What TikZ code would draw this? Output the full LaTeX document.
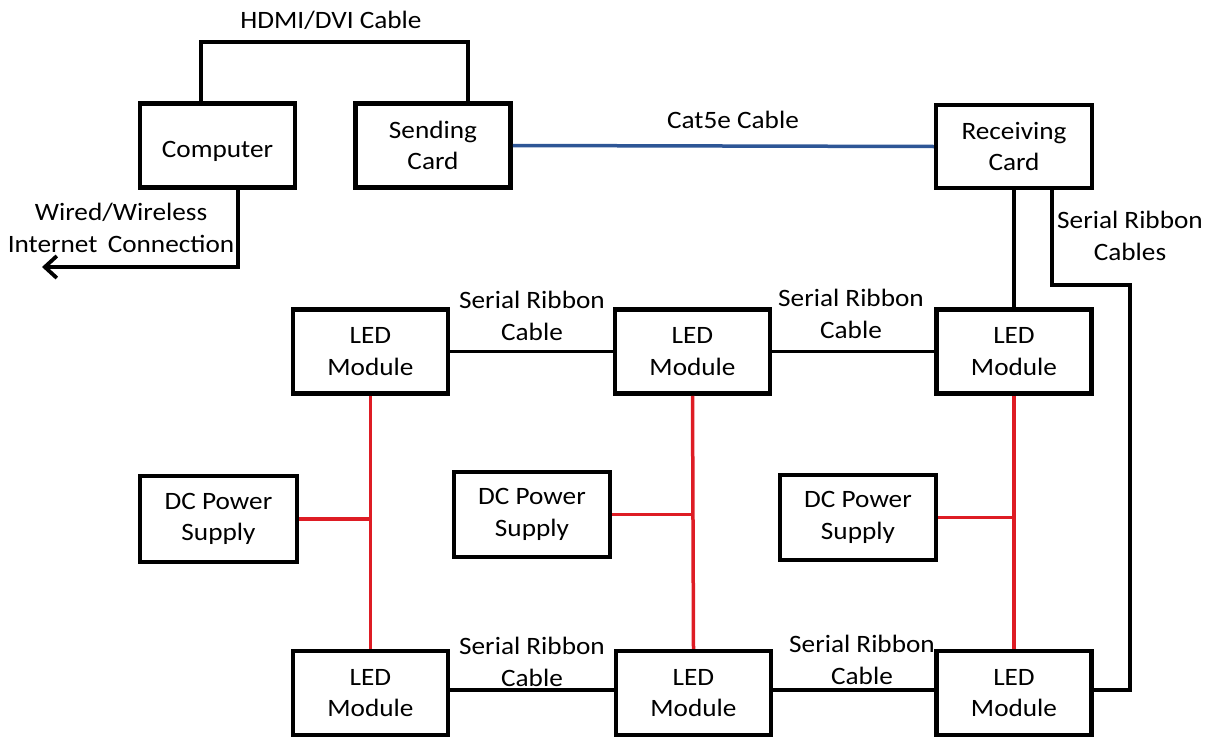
\documentclass[tikz,border=0pt]{standalone}
\usepackage{fontspec}
\setmainfont{Carlito}[FakeStretch=1.09]
\usetikzlibrary{arrows.meta}
\definecolor{cablered}{RGB}{222,28,36}
\definecolor{cableblue}{RGB}{46,86,150}
\tikzset{
  box/.style={draw=black, line width=4.5pt, rectangle, minimum width=155pt, minimum height=84pt, inner sep=0pt, align=center, font=\fontsize{25}{31.5}\selectfont},
  lbl/.style={inner sep=0pt, align=center, font=\fontsize{25}{32}\selectfont},
  wire/.style={draw=black, line width=3.8pt},
  power/.style={draw=cablered, line width=3.5pt},
  cat/.style={draw=cableblue, line width=3.5pt},
}
\begin{document}
\begin{tikzpicture}[x=1pt, y=-1pt]
\useasboundingbox (0,0) rectangle (1212,736);
% boxes
\node[box] (comp) at (217.5,145.5) {\rule{0pt}{28pt}Computer};
\node[box] (send) at (433,145.5) {Sending\\Card};
\node[box, minimum width=156pt, minimum height=83pt] (recv) at (1014,146.5) {Receiving\\Card};
\node[box] (led1) at (370.5,351.5) {LED\\Module};
\node[box] (led2) at (692.5,351.5) {LED\\Module};
\node[box] (led3) at (1014,351.5) {LED\\Module};
\node[box] (led4) at (370.5,693) {LED\\Module};
\node[box] (led5) at (693.5,693) {LED\\Module};
\node[box] (led6) at (1014,693) {LED\\Module};
\node[box, minimum width=157pt, minimum height=86pt] (dc1) at (218.5,519) {DC Power\\Supply};
\node[box, minimum width=156pt, minimum height=85pt] (dc2) at (532,514.5) {DC Power\\Supply};
\node[box, minimum width=156pt, minimum height=85pt] (dc3) at (858,517.5) {DC Power\\Supply};
% HDMI
\coordinate (h1) at (201,42);
\coordinate (h2) at (468,42);
\draw[wire, line join=miter] (h1 |- comp.north) -- (h1) -- (h2) -- (h2 |- send.north);
\node[lbl] (hdmi) at (331,20) {HDMI/DVI Cable};
% internet
\coordinate (i1) at (238,267);
\coordinate (i2) at (42,267);
\draw[wire, line join=miter, -{Straight Barb[length=12pt, width=22pt, line width=3.8pt]}] (i1 |- comp.south) -- (i1) -- (i2);
\node[lbl] (inet) at (121,228) {Wired/Wireless\\Internet\ \,Connection};
% Cat5e
\draw[cat] (send.east) -- (recv.west);
\node[lbl] (catl) at (733,120) {Cat5e Cable};
% receiving to LED
\draw[wire] (recv.south) -- (led3.north);
\coordinate (r1) at (1052,285);
\coordinate (r2) at (1130,285);
\coordinate (r3) at (1130,690);
\draw[wire, line join=miter] (r1 |- recv.south) -- (r1) -- (r2) -- (r3) -- (r3 -| led6.east);
\node[lbl] (rib) at (1130,236) {Serial Ribbon\\Cables};
% ribbon between modules
\draw[wire] (led1.east) -- (led2.west);
\draw[wire] (led2.east) -- (led3.west);
\coordinate (b1) at (448,690);
\draw[wire] (b1 -| led4.east) -- (b1 -| led5.west);
\draw[wire] (b1 -| led5.east) -- (b1 -| led6.west);
\node[lbl] (s1) at (532,316) {Serial Ribbon\\Cable};
\node[lbl] (s2) at (851,314) {Serial Ribbon\\Cable};
\node[lbl] (s3) at (532,662) {Serial Ribbon\\Cable};
\node[lbl] (s4) at (862,660) {Serial Ribbon\\Cable};
% power
\draw[power] (led1.south) -- (led4.north);
\draw[power] (led2.south) -- (led5.north);
\draw[power] (led3.south) -- (led6.north);
\draw[power] (dc1.east) -- (dc1.east -| led1.south);
\draw[power] (dc2.east) -- (dc2.east -| led2.south);
\draw[power] (dc3.east) -- (dc3.east -| led3.south);
\end{tikzpicture}
\end{document}
